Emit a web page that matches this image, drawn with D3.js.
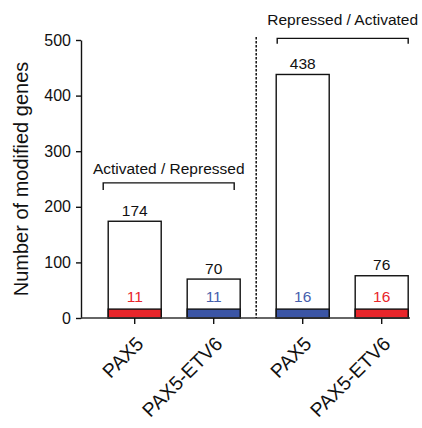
<!DOCTYPE html>
<html>
<head>
<meta charset="utf-8">
<script src="https://cdn.jsdelivr.net/npm/d3@7"></script>
<style>
  html, body { margin: 0; padding: 0; background: #fff; }
  svg { display: block; }
  text { font-family: "Liberation Sans", Arial, Helvetica, sans-serif; }
</style>
</head>
<body>
<svg id="chart" width="422" height="428"></svg>
<script>
// ---- data ----
const groups = ["Activated / Repressed", "Repressed / Activated"];
const categories = ["PAX5", "PAX5-ETV6"];
const totals = [[174, 70], [438, 76]];
const subLabels = [[11, 11], [16, 16]];
const subHeights = [[16, 16], [16, 16]];
const subColorKeys = [["red", "blue"], ["blue", "red"]];
const yTicks = [0, 100, 200, 300, 400, 500];
const yTitle = "Number of modified genes";

// ---- styles ----
const colors = { red: "#e8262b", blue: "#3b55a5" };
const textColors = { red: "#e8262b", blue: "#4660ad" };

const svg = d3.select("#chart");
const y = d3.scaleLinear().domain([0, 500]).range([318, 40]);
const outer = d3.scaleBand().domain(groups).range([90.2, 426.2]).padding(0);
const inner = d3.scaleBand().domain(categories).range([0, outer.bandwidth()])
  .paddingInner(0.329).paddingOuter(0.228);

const axisX0 = 81, axisX1 = 410;

const rows = [];
groups.forEach((g, gi) => categories.forEach((c, ci) => {
  rows.push({ g, gi, c, ci, total: totals[gi][ci], sub: subHeights[gi][ci],
    label: subLabels[gi][ci], color: subColorKeys[gi][ci],
    x: outer(g) + inner(c) });
}));
const bw = inner.bandwidth();

// bars (white, outlined)
svg.append("g").selectAll("rect.total").data(rows).join("rect")
  .attr("x", d => d.x).attr("width", bw)
  .attr("y", d => y(d.total)).attr("height", d => y(0) - y(d.total))
  .attr("fill", "#fff").attr("stroke", "#111").attr("stroke-width", 1.4);

// colored bottom segments
svg.append("g").selectAll("rect.sub").data(rows).join("rect")
  .attr("x", d => d.x).attr("width", bw)
  .attr("y", d => y(d.sub)).attr("height", d => y(0) - y(d.sub))
  .attr("fill", d => colors[d.color]).attr("stroke", "#111").attr("stroke-width", 1.4);

// total labels
svg.append("g").selectAll("text").data(rows).join("text")
  .attr("x", d => d.x + bw / 2).attr("y", d => y(d.total) - 5.5)
  .attr("text-anchor", "middle").attr("font-size", 15.5).attr("fill", "#111")
  .text(d => d.total);

// sub labels
svg.append("g").selectAll("text").data(rows).join("text")
  .attr("x", d => d.x + bw / 2).attr("y", d => y(d.sub) - 7)
  .attr("text-anchor", "middle").attr("font-size", 15.5)
  .attr("fill", d => textColors[d.color])
  .text(d => d.label);

// y axis
const yAxis = d3.axisLeft(y).tickValues(yTicks).tickSize(5).tickSizeOuter(0).tickPadding(5);
const gy = svg.append("g").attr("transform", `translate(${axisX0},0)`).call(yAxis);
gy.select(".domain").attr("stroke", "#111").attr("stroke-width", 1.4);
gy.selectAll(".tick line").attr("stroke", "#111").attr("stroke-width", 1.4);
gy.selectAll(".tick text").attr("font-size", 16).attr("fill", "#111")
  .attr("font-family", "'Liberation Sans', Arial, sans-serif");

// x axis line and ticks
svg.append("line").attr("x1", axisX0).attr("x2", axisX1)
  .attr("y1", y(0)).attr("y2", y(0)).attr("stroke", "#333").attr("stroke-width", 1.4);
svg.append("g").selectAll("line").data(rows).join("line")
  .attr("x1", d => d.x + bw / 2).attr("x2", d => d.x + bw / 2)
  .attr("y1", y(0)).attr("y2", y(0) + 6).attr("stroke", "#111").attr("stroke-width", 1.4);
svg.append("g").selectAll("text").data(rows).join("text")
  .attr("transform", d => `translate(${d.x + bw / 2 + 10},${y(0) + 27}) rotate(-45)`)
  .attr("text-anchor", "end").attr("font-size", 19.5).attr("fill", "#111")
  .text(d => d.c);

// y title
svg.append("text").attr("transform", `translate(28,179) rotate(-90)`)
  .attr("text-anchor", "middle").attr("font-size", 20).attr("fill", "#111")
  .text(yTitle);

// dashed separator
const sepX = outer(groups[1]) - 2;
svg.append("line").attr("x1", sepX).attr("x2", sepX)
  .attr("y1", 37).attr("y2", y(0)).attr("stroke", "#111")
  .attr("stroke-width", 1.5).attr("stroke-dasharray", "2.5,1.5");

// brackets
const bracketLayout = [
  { yVal: 243, dl: -5, dr: -6, textGap: 9, tick: 7 },
  { yVal: 503, dl: 1, dr: 0, textGap: 13, tick: 5.5 }
];
groups.forEach((g, gi) => {
  const L = bracketLayout[gi];
  const x0 = outer(g) + inner(categories[0]) + L.dl;
  const x1 = outer(g) + inner(categories[1]) + bw + L.dr;
  const by = y(L.yVal);
  svg.append("path")
    .attr("d", `M${x0},${by + L.tick}V${by}H${x1}V${by + L.tick}`)
    .attr("fill", "none").attr("stroke", "#111").attr("stroke-width", 1.4);
  svg.append("text").attr("x", (x0 + x1) / 2).attr("y", by - L.textGap)
    .attr("text-anchor", "middle").attr("font-size", 15.5).attr("fill", "#111")
    .text(g);
});
</script>
</body>
</html>
